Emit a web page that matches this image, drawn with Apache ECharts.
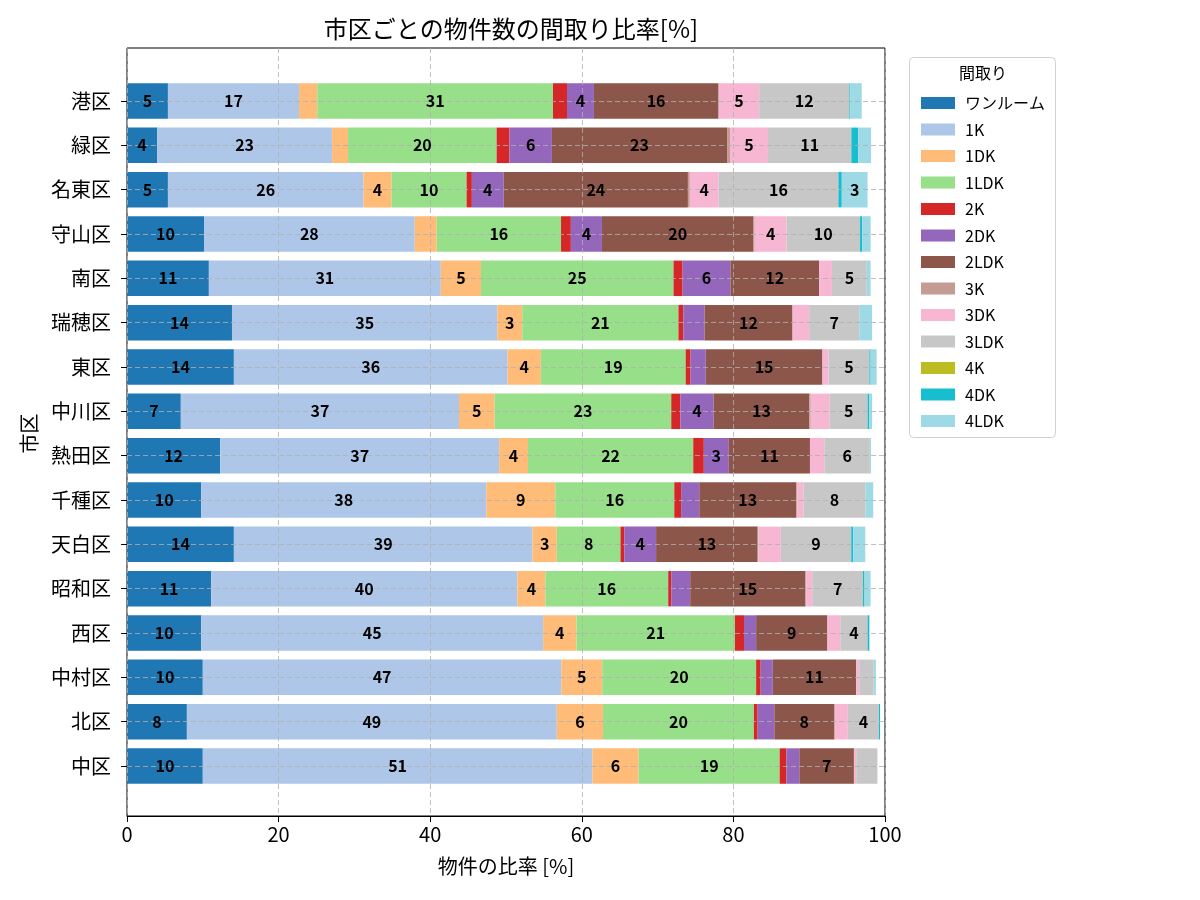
<!DOCTYPE html>
<html>
<head>
<meta charset="utf-8">
<title>市区ごとの物件数の間取り比率</title>
<script src="https://cdn.jsdelivr.net/npm/echarts@6.0.0/dist/echarts.min.js"></script>
<style>
    html, body { margin: 0; padding: 0; background: #fff; }
    #main { width: 1200px; height: 900px; }
</style>
</head>
<body>
<div id="main"></div>
<script>
// 市区 (top to bottom)
var cities = ['港区', '緑区', '名東区', '守山区', '南区', '瑞穂区', '東区', '中川区',
    '熱田区', '千種区', '天白区', '昭和区', '西区', '中村区', '北区', '中区'];
var layouts = ['ワンルーム', '1K', '1DK', '1LDK', '2K', '2DK', '2LDK', '3K', '3DK', '3LDK', '4K', '4DK', '4LDK'];
var layoutColors = ['#1f77b4', '#aec7e8', '#ffbb78', '#98df8a', '#d62728', '#9467bd', '#8c564b',
    '#c49c94', '#f7b6d2', '#c7c7c7', '#bcbd22', '#17becf', '#9edae5'];
var xTicks = [0, 20, 40, 60, 80, 100];

// 比率 [%] per layout, same order as cities
var oneRoom = [5.4, 3.96, 5.4, 10.16, 10.8, 13.85, 14.1, 7.1, 12.3, 9.8, 14.1, 11.1, 9.8, 10.0, 7.9, 10.0];
var r1K = [17.3, 23.1, 25.8, 27.8, 30.6, 35.0, 36.1, 36.7, 36.8, 37.6, 39.4, 40.4, 45.1, 47.3, 48.8, 51.4];
var r1DK = [2.4, 2.1, 3.7, 2.9, 5.3, 3.3, 4.4, 4.7, 3.8, 9.1, 3.2, 3.7, 4.4, 5.4, 6.1, 6.1];
var r1LDK = [31.1, 19.6, 9.9, 16.4, 25.4, 20.6, 19.1, 23.3, 21.8, 15.7, 8.4, 16.2, 20.9, 20.3, 19.9, 18.6];
var r2K = [1.85, 1.7, 0.7, 1.3, 1.2, 0.65, 0.65, 1.2, 1.4, 0.9, 0.5, 0.4, 1.2, 0.6, 0.5, 0.9];
var r2DK = [3.55, 5.6, 4.2, 4.1, 6.3, 2.8, 2.0, 4.4, 3.3, 2.4, 4.2, 2.5, 1.6, 1.6, 2.2, 1.7];
var r2LDK = [16.4, 23.1, 24.3, 20.0, 11.7, 11.6, 15.4, 12.6, 10.7, 12.8, 13.4, 15.2, 9.4, 11.0, 7.9, 7.2];
var r3K = [0.1, 0.4, 0.25, 0.15, 0, 0, 0, 0.2, 0, 0.15, 0.1, 0.1, 0, 0, 0.1, 0];
var r3DK = [5.3, 5.0, 3.8, 4.2, 1.7, 2.2, 0.8, 2.5, 1.9, 0.8, 2.95, 0.8, 1.7, 0.4, 1.7, 0.3];
var r3LDK = [11.9, 11.0, 15.8, 9.7, 4.6, 6.6, 5.4, 5.0, 6.0, 8.2, 9.3, 6.7, 3.6, 1.9, 4.1, 2.8];
var r4K = [0, 0, 0, 0, 0, 0, 0, 0, 0, 0, 0, 0, 0, 0, 0, 0];
var r4DK = [0.13, 0.9, 0.45, 0.3, 0, 0, 0.15, 0.2, 0, 0, 0.25, 0.2, 0.2, 0, 0.15, 0];
var r4LDK = [1.5, 1.7, 3.4, 1.1, 0.5, 1.7, 0.8, 0.4, 0.15, 1.0, 1.6, 0.8, 0.1, 0.3, 0, 0];

var layoutData = [oneRoom, r1K, r1DK, r1LDK, r2K, r2DK, r2LDK, r3K, r3DK, r3LDK, r4K, r4DK, r4LDK];

var FONT = '"Noto Sans CJK JP", "Noto Sans", sans-serif';
var gridLine = { color: '#b0b0b0', width: 0.8, type: [5, 3] };

var dom = document.getElementById('main');
var myChart = echarts.init(dom);
var option = null;

var series = [];
for (var i = 0; i < layouts.length; i++) {
    // coloured bars, below the grid lines
    series.push({
        name: layouts[i],
        type: 'bar',
        stack: 'total',
        xAxisIndex: 1,
        yAxisIndex: 1,
        barCategoryGap: '20%',
        z: 2,
        itemStyle: { color: layoutColors[i] },
        emphasis: { disabled: true },
        data: layoutData[i]
    });
}
for (var i = 0; i < layouts.length; i++) {
    // same stack again, transparent, only to put the numbers above the grid lines
    series.push({
        name: layouts[i] + '_label',
        type: 'bar',
        stack: 'labels',
        xAxisIndex: 1,
        yAxisIndex: 1,
        barGap: '-100%',
        barCategoryGap: '20%',
        z: 8,
        silent: true,
        itemStyle: { color: 'rgba(0,0,0,0)' },
        label: {
            show: true,
            position: 'inside',
            color: '#000',
            fontFamily: FONT,
            fontWeight: 'bold',
            fontSize: 16,
            formatter: function(p) {
                return p.value >= 3 ? p.value.toFixed(0) : '';
            }
        },
        emphasis: { disabled: true },
        data: layoutData[i]
    });
}

option = {
    animation: false,
    textStyle: { fontFamily: FONT, color: '#000' },
    title: {
        text: '市区ごとの物件数の間取り比率[%]',
        left: 506,
        top: 12,
        textAlign: 'center',
        textStyle: { fontFamily: FONT, fontSize: 24, fontWeight: 'normal', color: '#000' }
    },
    legend: {
        orient: 'vertical',
        left: 916,
        top: 90,
        itemWidth: 34,
        itemHeight: 12,
        itemGap: 10.5,
        icon: 'rect',
        textStyle: { fontFamily: FONT, fontSize: 16, color: '#000', padding: [0, 0, 0, 5] },
        data: layouts
    },
    graphic: [{
        type: 'rect',
        shape: { x: 909.5, y: 57.5, width: 146, height: 380, r: 4 },
        style: { fill: 'rgba(255,255,255,0.8)', stroke: '#d0d0d0', lineWidth: 1 },
        z: -1
    }, {
        type: 'text',
        x: 983,
        y: 73,
        style: {
            text: '間取り',
            fontFamily: FONT,
            fontSize: 16,
            fill: '#000',
            align: 'center',
            verticalAlign: 'middle'
        }
    }],
    grid: [{
        // frame with x axis
        left: 127,
        right: 315,
        top: 48,
        bottom: 84,
        show: true,
        borderColor: '#000',
        borderWidth: 1,
        backgroundColor: 'transparent'
    }, {
        // bars area, padded like matplotlib margins
        left: 127,
        right: 315,
        top: 78.8,
        bottom: 111.8
    }],
    xAxis: [{
        gridIndex: 0,
        type: 'value',
        min: xTicks[0],
        max: xTicks[xTicks.length - 1],
        interval: 20,
        z: 5,
        name: '物件の比率 [%]',
        nameLocation: 'middle',
        nameGap: 40,
        nameTextStyle: { fontFamily: FONT, fontSize: 20, color: '#000' },
        axisLine: { show: true, lineStyle: { color: '#000', width: 1 } },
        axisTick: { show: true, length: 6, lineStyle: { color: '#000' } },
        axisLabel: { fontFamily: FONT, fontSize: 20, color: '#000', margin: 8 },
        splitLine: { show: true, lineStyle: gridLine }
    }, {
        gridIndex: 1,
        type: 'value',
        min: xTicks[0],
        max: xTicks[xTicks.length - 1],
        show: false
    }],
    yAxis: [{
        gridIndex: 0,
        type: 'value',
        show: false
    }, {
        gridIndex: 1,
        type: 'category',
        inverse: true,
        data: cities,
        z: 5,
        name: '市区',
        nameLocation: 'middle',
        nameRotate: 90,
        nameGap: 88,
        nameTextStyle: { fontFamily: FONT, fontSize: 20, color: '#000' },
        axisLine: { show: false },
        axisTick: { show: true, alignWithLabel: true, length: 6, lineStyle: { color: '#000' } },
        axisLabel: { fontFamily: FONT, fontSize: 20, color: '#000', margin: 16 },
        splitLine: { show: true, alignWithLabel: true, lineStyle: gridLine }
    }],
    series: series
};

window.onresize = function() {
    myChart.resize();
};
if (option && typeof option === "object") {
    myChart.setOption(option, true);
}
</script>
</body>
</html>
